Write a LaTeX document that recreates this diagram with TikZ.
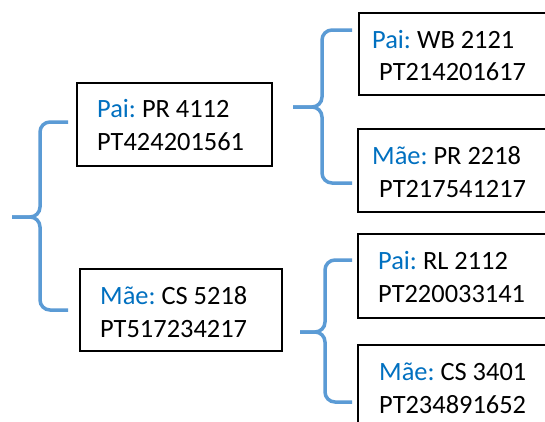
\documentclass[tikz,border=0pt]{standalone}
\usepackage{fontspec}
\setmainfont{Carlito}
\frenchspacing
\definecolor{lblue}{HTML}{0070C0}
\definecolor{bracecol}{HTML}{5B9BD5}
\begin{document}
\begin{tikzpicture}[x=1pt,y=-1pt,
  box/.style={draw=black, line width=1.8pt, inner sep=0pt, anchor=north west},
  txt/.style={anchor=base west, inner sep=0pt, font=\fontsize{26.4}{33}\selectfont},
  brace/.style={draw=bracecol, line width=3.5pt, rounded corners=10pt}]
\useasboundingbox (0,0) rectangle (545,421);
\fill[white] (0,0) rectangle (545,421);
\clip (0,0) rectangle (545,421);
% boxes
\node[box, minimum width=195pt, minimum height=83pt] (b1) at (76,82) {};
\node[box, minimum width=202pt, minimum height=82pt] (b2) at (79,268) {};
\node[box, minimum width=200pt, minimum height=82pt] (b3) at (358,12) {};
\node[box, minimum width=200pt, minimum height=83pt] (b4) at (357,128) {};
\node[box, minimum width=200pt, minimum height=84pt] (b5) at (357,233) {};
\node[box, minimum width=200pt, minimum height=100pt] (b6) at (357,344) {};
% texts
\node[txt] (t1a) at (97,117) {\textcolor{lblue}{Pai:} PR 4112};
\node[txt] (t1b) at (97,150) {PT424201561};
\node[txt] (t2a) at (100,304) {\textcolor{lblue}{Mãe:} CS 5218};
\node[txt] (t2b) at (100,337) {PT517234217};
\node[txt] (t3a) at (372,48) {\textcolor{lblue}{Pai:} WB 2121};
\node[txt] (t3b) at (379,80) {PT214201617};
\node[txt] (t4a) at (372,164) {\textcolor{lblue}{Mãe:} PR 2218};
\node[txt] (t4b) at (379,197) {PT217541217};
\node[txt] (t5a) at (378,269) {\textcolor{lblue}{Pai:} RL 2112};
\node[txt] (t5b) at (378,302) {PT220033141};
\node[txt] (t6a) at (379,380) {\textcolor{lblue}{Mãe:} CS 3401};
\node[txt] (t6b) at (379,413) {PT234891652};
% braces
\coordinate (p1t) at (68,122);
\coordinate (p1b) at (68,310);
\coordinate (p1tip) at (12,217);
\draw[brace] (p1t) -- (40,122) -- (40,217) -- (p1tip);
\draw[brace] (p1b) -- (40,310) -- (40,217) -- (p1tip);
\coordinate (p2t) at (352,30);
\coordinate (p2b) at (352,183);
\coordinate (p2tip) at (293,107);
\draw[brace] (p2t) -- (322,30) -- (322,107) -- (p2tip);
\draw[brace] (p2b) -- (322,183) -- (322,107) -- (p2tip);
\coordinate (p3t) at (352,260);
\coordinate (p3b) at (352,402);
\coordinate (p3tip) at (300,332);
\draw[brace] (p3t) -- (325,260) -- (325,332) -- (p3tip);
\draw[brace] (p3b) -- (325,402) -- (325,332) -- (p3tip);
\end{tikzpicture}
\end{document}
